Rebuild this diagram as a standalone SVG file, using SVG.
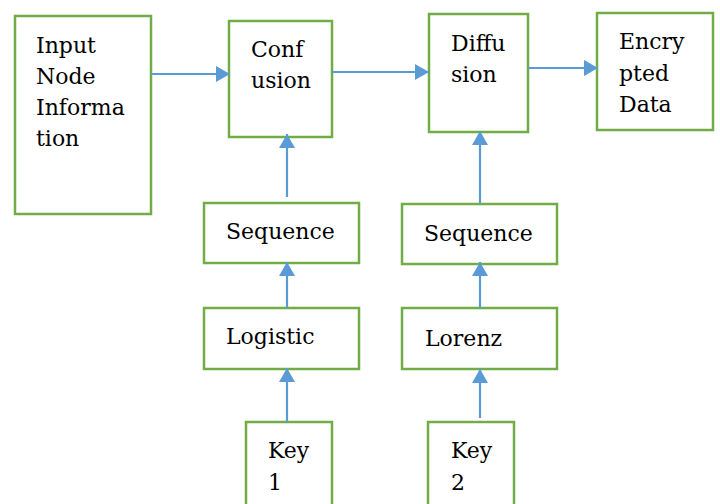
<svg xmlns="http://www.w3.org/2000/svg" width="720" height="504" viewBox="0 0 720 504">
<style>
.box{fill:#fff;stroke:#70AD47;stroke-width:2.5}
.t{font-family:"DejaVu Serif","Liberation Serif",serif;font-size:22px;fill:#000}
.c{stroke:#5B9BD5;stroke-width:2.2;fill:none;marker-end:url(#ah)}
</style>
<defs>
<marker id="ah" markerUnits="userSpaceOnUse" markerWidth="16" markerHeight="16" viewBox="0 0 14 16" refX="14" refY="8" orient="auto">
<path d="M0,0 L14,8 L0,16 Z" fill="#5B9BD5"/>
</marker>
</defs>
<rect width="720" height="504" fill="#fff"/>
<g id="input"><rect class="box" x="15" y="16" width="136" height="198"/>
<text class="t" x="36" y="53">Input</text><text class="t" x="36" y="84">Node</text><text class="t" x="36" y="115">Informa</text><text class="t" x="36" y="146">tion</text></g>
<g id="confusion"><rect class="box" x="229" y="21" width="103" height="116"/>
<text class="t" x="251" y="57">Conf</text><text class="t" x="251" y="88">usion</text></g>
<g id="diffusion"><rect class="box" x="429" y="14" width="99" height="118"/>
<text class="t" x="451" y="51">Diffu</text><text class="t" x="451" y="82">sion</text></g>
<g id="encrypted"><rect class="box" x="597" y="13" width="116" height="117"/>
<text class="t" x="619" y="49">Encry</text><text class="t" x="619" y="81">pted</text><text class="t" x="619" y="112">Data</text></g>
<g id="seq1"><rect class="box" x="204" y="203" width="155" height="60"/>
<text class="t" x="226" y="239">Sequence</text></g>
<g id="seq2"><rect class="box" x="402" y="204" width="155" height="60"/>
<text class="t" x="424" y="241">Sequence</text></g>
<g id="logistic"><rect class="box" x="204" y="308" width="155" height="61"/>
<text class="t" x="226" y="344">Logistic</text></g>
<g id="lorenz"><rect class="box" x="402" y="308" width="155" height="61"/>
<text class="t" x="425" y="346">Lorenz</text></g>
<g id="key1"><rect class="box" x="246" y="422" width="86" height="90"/>
<text class="t" x="268" y="458">Key</text><text class="t" x="268" y="490">1</text></g>
<g id="key2"><rect class="box" x="428" y="422" width="86" height="90"/>
<text class="t" x="451" y="458">Key</text><text class="t" x="451" y="490">2</text></g>
<g id="connectors">
<line class="c" x1="151" y1="74" x2="230" y2="74"/>
<line class="c" x1="332" y1="72" x2="429" y2="72"/>
<line class="c" x1="528" y1="68" x2="598" y2="68"/>
<line class="c" x1="287" y1="197" x2="287" y2="134"/>
<line class="c" x1="480" y1="203" x2="480" y2="131"/>
<line class="c" x1="287" y1="308" x2="287" y2="262"/>
<line class="c" x1="480" y1="308" x2="480" y2="262"/>
<line class="c" x1="287" y1="422" x2="287" y2="368"/>
<line class="c" x1="480" y1="418" x2="480" y2="369"/>
</g>
</svg>
